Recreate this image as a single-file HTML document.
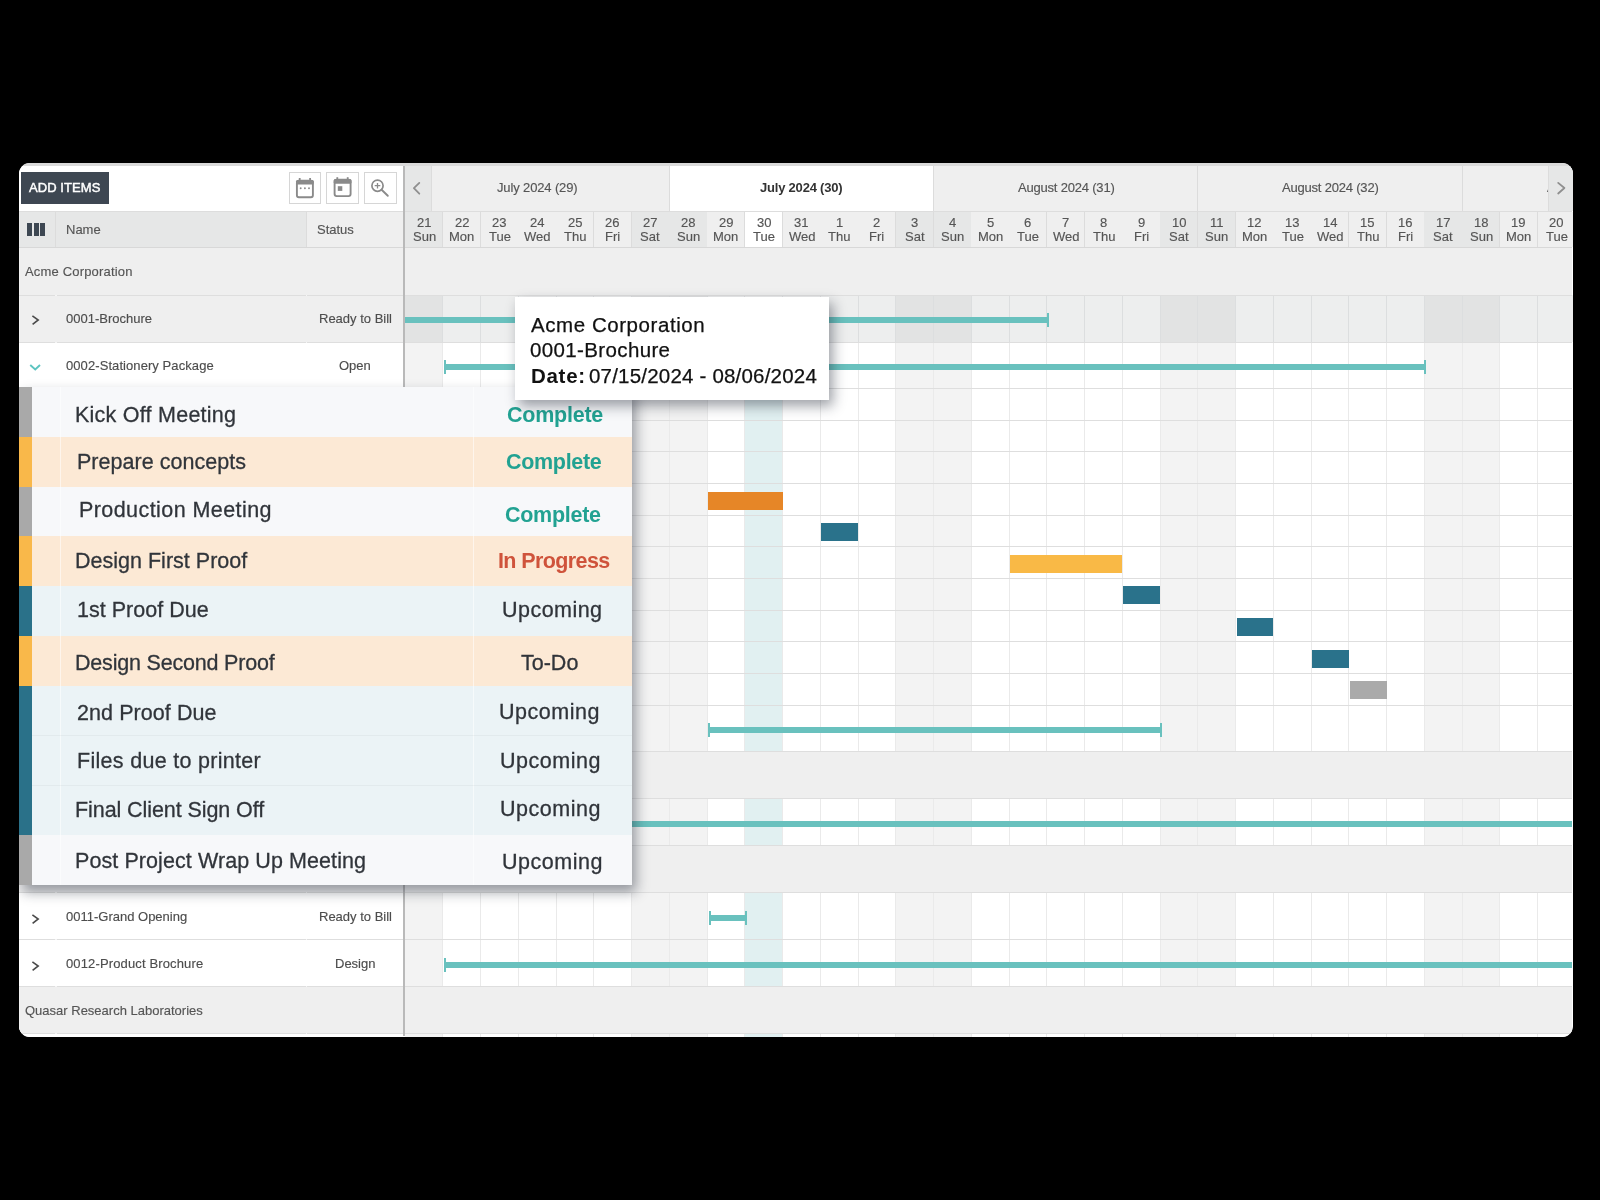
<!DOCTYPE html>
<html><head><meta charset="utf-8"><title>Gantt</title>
<style>
html,body{margin:0;padding:0;background:#000;width:1600px;height:1200px;overflow:hidden}
#p{position:absolute;left:19px;top:163px;width:1553.5px;height:873.5px;border-radius:11px;overflow:hidden;background:#fff}
#p>div,#p>svg{position:absolute}
.t{white-space:nowrap;font-family:'Liberation Sans', sans-serif;will-change:transform}
.g{-webkit-text-stroke:0.15px currentColor}
</style></head><body><div id="p">
<div style="left:0.00px;top:0.00px;width:1553.00px;height:2.50px;background:#dadada;"></div>
<div style="left:0.00px;top:2.50px;width:384.00px;height:45.50px;background:#ffffff;"></div>
<div style="left:386.00px;top:2.50px;width:1167.00px;height:45.50px;background:#efefef;"></div>
<div style="left:650.45px;top:2.50px;width:264.25px;height:45.50px;background:#ffffff;"></div>
<div style="left:649.95px;top:2.50px;width:1.00px;height:45.50px;background:#dcdcdc;"></div>
<div style="left:914.20px;top:2.50px;width:1.00px;height:45.50px;background:#dcdcdc;"></div>
<div style="left:1178.45px;top:2.50px;width:1.00px;height:45.50px;background:#dcdcdc;"></div>
<div style="left:1442.70px;top:2.50px;width:1.00px;height:45.50px;background:#dcdcdc;"></div>
<div style="left:0.00px;top:48.00px;width:1553.00px;height:1.00px;background:#dddddd;"></div>
<div style="left:0.00px;top:49.00px;width:287.50px;height:35.00px;background:#e6e7e7;"></div>
<div style="left:287.50px;top:49.00px;width:96.50px;height:35.00px;background:#efefef;"></div>
<div style="left:36.00px;top:49.00px;width:1.00px;height:35.00px;background:#dcdcdc;"></div>
<div style="left:287.00px;top:49.00px;width:1.00px;height:35.00px;background:#dcdcdc;"></div>
<div style="left:0.00px;top:84.00px;width:384.00px;height:1.20px;background:#d8d8d8;"></div>
<div style="left:386.20px;top:49.00px;width:37.75px;height:35.00px;background:#e6e7e7;"></div>
<div style="left:423.45px;top:49.00px;width:1.00px;height:35.00px;background:#dcdcdc;"></div>
<div style="left:423.95px;top:49.00px;width:37.75px;height:35.00px;background:#efefef;"></div>
<div style="left:461.20px;top:49.00px;width:1.00px;height:35.00px;background:#dcdcdc;"></div>
<div style="left:461.70px;top:49.00px;width:37.75px;height:35.00px;background:#efefef;"></div>
<div style="left:498.95px;top:49.00px;width:1.00px;height:35.00px;background:#dcdcdc;"></div>
<div style="left:499.45px;top:49.00px;width:37.75px;height:35.00px;background:#efefef;"></div>
<div style="left:536.70px;top:49.00px;width:1.00px;height:35.00px;background:#dcdcdc;"></div>
<div style="left:537.20px;top:49.00px;width:37.75px;height:35.00px;background:#efefef;"></div>
<div style="left:574.45px;top:49.00px;width:1.00px;height:35.00px;background:#dcdcdc;"></div>
<div style="left:574.95px;top:49.00px;width:37.75px;height:35.00px;background:#efefef;"></div>
<div style="left:612.20px;top:49.00px;width:1.00px;height:35.00px;background:#dcdcdc;"></div>
<div style="left:612.70px;top:49.00px;width:37.75px;height:35.00px;background:#e6e7e7;"></div>
<div style="left:649.95px;top:49.00px;width:1.00px;height:35.00px;background:#dcdcdc;"></div>
<div style="left:650.45px;top:49.00px;width:37.75px;height:35.00px;background:#e6e7e7;"></div>
<div style="left:687.70px;top:49.00px;width:1.00px;height:35.00px;background:#dcdcdc;"></div>
<div style="left:688.20px;top:49.00px;width:37.75px;height:35.00px;background:#efefef;"></div>
<div style="left:725.45px;top:49.00px;width:1.00px;height:35.00px;background:#dcdcdc;"></div>
<div style="left:725.95px;top:49.00px;width:37.75px;height:35.00px;background:#ffffff;"></div>
<div style="left:763.20px;top:49.00px;width:1.00px;height:35.00px;background:#dcdcdc;"></div>
<div style="left:763.70px;top:49.00px;width:37.75px;height:35.00px;background:#efefef;"></div>
<div style="left:800.95px;top:49.00px;width:1.00px;height:35.00px;background:#dcdcdc;"></div>
<div style="left:801.45px;top:49.00px;width:37.75px;height:35.00px;background:#efefef;"></div>
<div style="left:838.70px;top:49.00px;width:1.00px;height:35.00px;background:#dcdcdc;"></div>
<div style="left:839.20px;top:49.00px;width:37.75px;height:35.00px;background:#efefef;"></div>
<div style="left:876.45px;top:49.00px;width:1.00px;height:35.00px;background:#dcdcdc;"></div>
<div style="left:876.95px;top:49.00px;width:37.75px;height:35.00px;background:#e6e7e7;"></div>
<div style="left:914.20px;top:49.00px;width:1.00px;height:35.00px;background:#dcdcdc;"></div>
<div style="left:914.70px;top:49.00px;width:37.75px;height:35.00px;background:#e6e7e7;"></div>
<div style="left:951.95px;top:49.00px;width:1.00px;height:35.00px;background:#dcdcdc;"></div>
<div style="left:952.45px;top:49.00px;width:37.75px;height:35.00px;background:#efefef;"></div>
<div style="left:989.70px;top:49.00px;width:1.00px;height:35.00px;background:#dcdcdc;"></div>
<div style="left:990.20px;top:49.00px;width:37.75px;height:35.00px;background:#efefef;"></div>
<div style="left:1027.45px;top:49.00px;width:1.00px;height:35.00px;background:#dcdcdc;"></div>
<div style="left:1027.95px;top:49.00px;width:37.75px;height:35.00px;background:#efefef;"></div>
<div style="left:1065.20px;top:49.00px;width:1.00px;height:35.00px;background:#dcdcdc;"></div>
<div style="left:1065.70px;top:49.00px;width:37.75px;height:35.00px;background:#efefef;"></div>
<div style="left:1102.95px;top:49.00px;width:1.00px;height:35.00px;background:#dcdcdc;"></div>
<div style="left:1103.45px;top:49.00px;width:37.75px;height:35.00px;background:#efefef;"></div>
<div style="left:1140.70px;top:49.00px;width:1.00px;height:35.00px;background:#dcdcdc;"></div>
<div style="left:1141.20px;top:49.00px;width:37.75px;height:35.00px;background:#e6e7e7;"></div>
<div style="left:1178.45px;top:49.00px;width:1.00px;height:35.00px;background:#dcdcdc;"></div>
<div style="left:1178.95px;top:49.00px;width:37.75px;height:35.00px;background:#e6e7e7;"></div>
<div style="left:1216.20px;top:49.00px;width:1.00px;height:35.00px;background:#dcdcdc;"></div>
<div style="left:1216.70px;top:49.00px;width:37.75px;height:35.00px;background:#efefef;"></div>
<div style="left:1253.95px;top:49.00px;width:1.00px;height:35.00px;background:#dcdcdc;"></div>
<div style="left:1254.45px;top:49.00px;width:37.75px;height:35.00px;background:#efefef;"></div>
<div style="left:1291.70px;top:49.00px;width:1.00px;height:35.00px;background:#dcdcdc;"></div>
<div style="left:1292.20px;top:49.00px;width:37.75px;height:35.00px;background:#efefef;"></div>
<div style="left:1329.45px;top:49.00px;width:1.00px;height:35.00px;background:#dcdcdc;"></div>
<div style="left:1329.95px;top:49.00px;width:37.75px;height:35.00px;background:#efefef;"></div>
<div style="left:1367.20px;top:49.00px;width:1.00px;height:35.00px;background:#dcdcdc;"></div>
<div style="left:1367.70px;top:49.00px;width:37.75px;height:35.00px;background:#efefef;"></div>
<div style="left:1404.95px;top:49.00px;width:1.00px;height:35.00px;background:#dcdcdc;"></div>
<div style="left:1405.45px;top:49.00px;width:37.75px;height:35.00px;background:#e6e7e7;"></div>
<div style="left:1442.70px;top:49.00px;width:1.00px;height:35.00px;background:#dcdcdc;"></div>
<div style="left:1443.20px;top:49.00px;width:37.75px;height:35.00px;background:#e6e7e7;"></div>
<div style="left:1480.45px;top:49.00px;width:1.00px;height:35.00px;background:#dcdcdc;"></div>
<div style="left:1480.95px;top:49.00px;width:37.75px;height:35.00px;background:#efefef;"></div>
<div style="left:1518.20px;top:49.00px;width:1.00px;height:35.00px;background:#dcdcdc;"></div>
<div style="left:1518.70px;top:49.00px;width:37.75px;height:35.00px;background:#efefef;"></div>
<div style="left:1555.95px;top:49.00px;width:1.00px;height:35.00px;background:#dcdcdc;"></div>
<div style="left:386.00px;top:84.00px;width:1167.00px;height:1.20px;background:#d8d8d8;"></div>
<div style="left:0.00px;top:85.20px;width:1553.00px;height:791.80px;background:#ffffff;"></div>
<div style="left:386.20px;top:85.20px;width:37.75px;height:791.80px;background:#f3f3f3;"></div>
<div style="left:612.70px;top:85.20px;width:37.75px;height:791.80px;background:#f3f3f3;"></div>
<div style="left:650.45px;top:85.20px;width:37.75px;height:791.80px;background:#f3f3f3;"></div>
<div style="left:725.95px;top:85.20px;width:37.75px;height:791.80px;background:#e1f0f1;"></div>
<div style="left:876.95px;top:85.20px;width:37.75px;height:791.80px;background:#f3f3f3;"></div>
<div style="left:914.70px;top:85.20px;width:37.75px;height:791.80px;background:#f3f3f3;"></div>
<div style="left:1141.20px;top:85.20px;width:37.75px;height:791.80px;background:#f3f3f3;"></div>
<div style="left:1178.95px;top:85.20px;width:37.75px;height:791.80px;background:#f3f3f3;"></div>
<div style="left:1405.45px;top:85.20px;width:37.75px;height:791.80px;background:#f3f3f3;"></div>
<div style="left:1443.20px;top:85.20px;width:37.75px;height:791.80px;background:#f3f3f3;"></div>
<div style="left:423.45px;top:85.20px;width:1.00px;height:791.80px;background:#eaeaea;"></div>
<div style="left:461.20px;top:85.20px;width:1.00px;height:791.80px;background:#eaeaea;"></div>
<div style="left:498.95px;top:85.20px;width:1.00px;height:791.80px;background:#eaeaea;"></div>
<div style="left:536.70px;top:85.20px;width:1.00px;height:791.80px;background:#eaeaea;"></div>
<div style="left:574.45px;top:85.20px;width:1.00px;height:791.80px;background:#eaeaea;"></div>
<div style="left:612.20px;top:85.20px;width:1.00px;height:791.80px;background:#eaeaea;"></div>
<div style="left:649.95px;top:85.20px;width:1.00px;height:791.80px;background:#eaeaea;"></div>
<div style="left:687.70px;top:85.20px;width:1.00px;height:791.80px;background:#eaeaea;"></div>
<div style="left:725.45px;top:85.20px;width:1.00px;height:791.80px;background:#eaeaea;"></div>
<div style="left:763.20px;top:85.20px;width:1.00px;height:791.80px;background:#eaeaea;"></div>
<div style="left:800.95px;top:85.20px;width:1.00px;height:791.80px;background:#eaeaea;"></div>
<div style="left:838.70px;top:85.20px;width:1.00px;height:791.80px;background:#eaeaea;"></div>
<div style="left:876.45px;top:85.20px;width:1.00px;height:791.80px;background:#eaeaea;"></div>
<div style="left:914.20px;top:85.20px;width:1.00px;height:791.80px;background:#eaeaea;"></div>
<div style="left:951.95px;top:85.20px;width:1.00px;height:791.80px;background:#eaeaea;"></div>
<div style="left:989.70px;top:85.20px;width:1.00px;height:791.80px;background:#eaeaea;"></div>
<div style="left:1027.45px;top:85.20px;width:1.00px;height:791.80px;background:#eaeaea;"></div>
<div style="left:1065.20px;top:85.20px;width:1.00px;height:791.80px;background:#eaeaea;"></div>
<div style="left:1102.95px;top:85.20px;width:1.00px;height:791.80px;background:#eaeaea;"></div>
<div style="left:1140.70px;top:85.20px;width:1.00px;height:791.80px;background:#eaeaea;"></div>
<div style="left:1178.45px;top:85.20px;width:1.00px;height:791.80px;background:#eaeaea;"></div>
<div style="left:1216.20px;top:85.20px;width:1.00px;height:791.80px;background:#eaeaea;"></div>
<div style="left:1253.95px;top:85.20px;width:1.00px;height:791.80px;background:#eaeaea;"></div>
<div style="left:1291.70px;top:85.20px;width:1.00px;height:791.80px;background:#eaeaea;"></div>
<div style="left:1329.45px;top:85.20px;width:1.00px;height:791.80px;background:#eaeaea;"></div>
<div style="left:1367.20px;top:85.20px;width:1.00px;height:791.80px;background:#eaeaea;"></div>
<div style="left:1404.95px;top:85.20px;width:1.00px;height:791.80px;background:#eaeaea;"></div>
<div style="left:1442.70px;top:85.20px;width:1.00px;height:791.80px;background:#eaeaea;"></div>
<div style="left:1480.45px;top:85.20px;width:1.00px;height:791.80px;background:#eaeaea;"></div>
<div style="left:1518.20px;top:85.20px;width:1.00px;height:791.80px;background:#eaeaea;"></div>
<div style="left:0.00px;top:85.20px;width:1553.00px;height:46.80px;background:#efefef;"></div>
<div style="left:0.00px;top:132.00px;width:384.00px;height:47.00px;background:#efefef;"></div>
<div style="left:386.20px;top:132.00px;width:37.75px;height:47.00px;background:#e2e3e3;"></div>
<div style="left:423.95px;top:132.00px;width:37.75px;height:47.00px;background:#edeeee;"></div>
<div style="left:461.70px;top:132.00px;width:37.75px;height:47.00px;background:#edeeee;"></div>
<div style="left:499.45px;top:132.00px;width:37.75px;height:47.00px;background:#edeeee;"></div>
<div style="left:537.20px;top:132.00px;width:37.75px;height:47.00px;background:#edeeee;"></div>
<div style="left:574.95px;top:132.00px;width:37.75px;height:47.00px;background:#edeeee;"></div>
<div style="left:612.70px;top:132.00px;width:37.75px;height:47.00px;background:#e2e3e3;"></div>
<div style="left:650.45px;top:132.00px;width:37.75px;height:47.00px;background:#e2e3e3;"></div>
<div style="left:688.20px;top:132.00px;width:37.75px;height:47.00px;background:#edeeee;"></div>
<div style="left:725.95px;top:132.00px;width:37.75px;height:47.00px;background:#edeeee;"></div>
<div style="left:763.70px;top:132.00px;width:37.75px;height:47.00px;background:#edeeee;"></div>
<div style="left:801.45px;top:132.00px;width:37.75px;height:47.00px;background:#edeeee;"></div>
<div style="left:839.20px;top:132.00px;width:37.75px;height:47.00px;background:#edeeee;"></div>
<div style="left:876.95px;top:132.00px;width:37.75px;height:47.00px;background:#e2e3e3;"></div>
<div style="left:914.70px;top:132.00px;width:37.75px;height:47.00px;background:#e2e3e3;"></div>
<div style="left:952.45px;top:132.00px;width:37.75px;height:47.00px;background:#edeeee;"></div>
<div style="left:990.20px;top:132.00px;width:37.75px;height:47.00px;background:#edeeee;"></div>
<div style="left:1027.95px;top:132.00px;width:37.75px;height:47.00px;background:#edeeee;"></div>
<div style="left:1065.70px;top:132.00px;width:37.75px;height:47.00px;background:#edeeee;"></div>
<div style="left:1103.45px;top:132.00px;width:37.75px;height:47.00px;background:#edeeee;"></div>
<div style="left:1141.20px;top:132.00px;width:37.75px;height:47.00px;background:#e2e3e3;"></div>
<div style="left:1178.95px;top:132.00px;width:37.75px;height:47.00px;background:#e2e3e3;"></div>
<div style="left:1216.70px;top:132.00px;width:37.75px;height:47.00px;background:#edeeee;"></div>
<div style="left:1254.45px;top:132.00px;width:37.75px;height:47.00px;background:#edeeee;"></div>
<div style="left:1292.20px;top:132.00px;width:37.75px;height:47.00px;background:#edeeee;"></div>
<div style="left:1329.95px;top:132.00px;width:37.75px;height:47.00px;background:#edeeee;"></div>
<div style="left:1367.70px;top:132.00px;width:37.75px;height:47.00px;background:#edeeee;"></div>
<div style="left:1405.45px;top:132.00px;width:37.75px;height:47.00px;background:#e2e3e3;"></div>
<div style="left:1443.20px;top:132.00px;width:37.75px;height:47.00px;background:#e2e3e3;"></div>
<div style="left:1480.95px;top:132.00px;width:37.75px;height:47.00px;background:#edeeee;"></div>
<div style="left:1518.70px;top:132.00px;width:37.75px;height:47.00px;background:#edeeee;"></div>
<div style="left:423.45px;top:132.00px;width:1.00px;height:47.00px;background:#dcdedf;"></div>
<div style="left:461.20px;top:132.00px;width:1.00px;height:47.00px;background:#dcdedf;"></div>
<div style="left:498.95px;top:132.00px;width:1.00px;height:47.00px;background:#dcdedf;"></div>
<div style="left:536.70px;top:132.00px;width:1.00px;height:47.00px;background:#dcdedf;"></div>
<div style="left:574.45px;top:132.00px;width:1.00px;height:47.00px;background:#dcdedf;"></div>
<div style="left:612.20px;top:132.00px;width:1.00px;height:47.00px;background:#dcdedf;"></div>
<div style="left:649.95px;top:132.00px;width:1.00px;height:47.00px;background:#dcdedf;"></div>
<div style="left:687.70px;top:132.00px;width:1.00px;height:47.00px;background:#dcdedf;"></div>
<div style="left:725.45px;top:132.00px;width:1.00px;height:47.00px;background:#dcdedf;"></div>
<div style="left:763.20px;top:132.00px;width:1.00px;height:47.00px;background:#dcdedf;"></div>
<div style="left:800.95px;top:132.00px;width:1.00px;height:47.00px;background:#dcdedf;"></div>
<div style="left:838.70px;top:132.00px;width:1.00px;height:47.00px;background:#dcdedf;"></div>
<div style="left:876.45px;top:132.00px;width:1.00px;height:47.00px;background:#dcdedf;"></div>
<div style="left:914.20px;top:132.00px;width:1.00px;height:47.00px;background:#dcdedf;"></div>
<div style="left:951.95px;top:132.00px;width:1.00px;height:47.00px;background:#dcdedf;"></div>
<div style="left:989.70px;top:132.00px;width:1.00px;height:47.00px;background:#dcdedf;"></div>
<div style="left:1027.45px;top:132.00px;width:1.00px;height:47.00px;background:#dcdedf;"></div>
<div style="left:1065.20px;top:132.00px;width:1.00px;height:47.00px;background:#dcdedf;"></div>
<div style="left:1102.95px;top:132.00px;width:1.00px;height:47.00px;background:#dcdedf;"></div>
<div style="left:1140.70px;top:132.00px;width:1.00px;height:47.00px;background:#dcdedf;"></div>
<div style="left:1178.45px;top:132.00px;width:1.00px;height:47.00px;background:#dcdedf;"></div>
<div style="left:1216.20px;top:132.00px;width:1.00px;height:47.00px;background:#dcdedf;"></div>
<div style="left:1253.95px;top:132.00px;width:1.00px;height:47.00px;background:#dcdedf;"></div>
<div style="left:1291.70px;top:132.00px;width:1.00px;height:47.00px;background:#dcdedf;"></div>
<div style="left:1329.45px;top:132.00px;width:1.00px;height:47.00px;background:#dcdedf;"></div>
<div style="left:1367.20px;top:132.00px;width:1.00px;height:47.00px;background:#dcdedf;"></div>
<div style="left:1404.95px;top:132.00px;width:1.00px;height:47.00px;background:#dcdedf;"></div>
<div style="left:1442.70px;top:132.00px;width:1.00px;height:47.00px;background:#dcdedf;"></div>
<div style="left:1480.45px;top:132.00px;width:1.00px;height:47.00px;background:#dcdedf;"></div>
<div style="left:1518.20px;top:132.00px;width:1.00px;height:47.00px;background:#dcdedf;"></div>
<div style="left:0.00px;top:588.50px;width:1553.00px;height:47.00px;background:#efefef;"></div>
<div style="left:0.00px;top:682.50px;width:1553.00px;height:47.00px;background:#efefef;"></div>
<div style="left:0.00px;top:823.50px;width:1553.00px;height:47.00px;background:#efefef;"></div>
<div style="left:0.00px;top:131.50px;width:1553.00px;height:1.00px;background:#dedede;"></div>
<div style="left:36.00px;top:131.50px;width:1.50px;height:1.00px;background:#f4f4f4;"></div>
<div style="left:286.50px;top:131.50px;width:1.50px;height:1.00px;background:#f4f4f4;"></div>
<div style="left:0.00px;top:178.50px;width:1553.00px;height:1.00px;background:#dedede;"></div>
<div style="left:36.00px;top:178.50px;width:1.50px;height:1.00px;background:#f4f4f4;"></div>
<div style="left:286.50px;top:178.50px;width:1.50px;height:1.00px;background:#f4f4f4;"></div>
<div style="left:0.00px;top:225.10px;width:1553.00px;height:1.00px;background:#dedede;"></div>
<div style="left:36.00px;top:225.10px;width:1.50px;height:1.00px;background:#f4f4f4;"></div>
<div style="left:286.50px;top:225.10px;width:1.50px;height:1.00px;background:#f4f4f4;"></div>
<div style="left:0.00px;top:256.77px;width:1553.00px;height:1.00px;background:#dedede;"></div>
<div style="left:36.00px;top:256.77px;width:1.50px;height:1.00px;background:#f4f4f4;"></div>
<div style="left:286.50px;top:256.77px;width:1.50px;height:1.00px;background:#f4f4f4;"></div>
<div style="left:0.00px;top:288.44px;width:1553.00px;height:1.00px;background:#dedede;"></div>
<div style="left:36.00px;top:288.44px;width:1.50px;height:1.00px;background:#f4f4f4;"></div>
<div style="left:286.50px;top:288.44px;width:1.50px;height:1.00px;background:#f4f4f4;"></div>
<div style="left:0.00px;top:320.11px;width:1553.00px;height:1.00px;background:#dedede;"></div>
<div style="left:36.00px;top:320.11px;width:1.50px;height:1.00px;background:#f4f4f4;"></div>
<div style="left:286.50px;top:320.11px;width:1.50px;height:1.00px;background:#f4f4f4;"></div>
<div style="left:0.00px;top:351.78px;width:1553.00px;height:1.00px;background:#dedede;"></div>
<div style="left:36.00px;top:351.78px;width:1.50px;height:1.00px;background:#f4f4f4;"></div>
<div style="left:286.50px;top:351.78px;width:1.50px;height:1.00px;background:#f4f4f4;"></div>
<div style="left:0.00px;top:383.45px;width:1553.00px;height:1.00px;background:#dedede;"></div>
<div style="left:36.00px;top:383.45px;width:1.50px;height:1.00px;background:#f4f4f4;"></div>
<div style="left:286.50px;top:383.45px;width:1.50px;height:1.00px;background:#f4f4f4;"></div>
<div style="left:0.00px;top:415.12px;width:1553.00px;height:1.00px;background:#dedede;"></div>
<div style="left:36.00px;top:415.12px;width:1.50px;height:1.00px;background:#f4f4f4;"></div>
<div style="left:286.50px;top:415.12px;width:1.50px;height:1.00px;background:#f4f4f4;"></div>
<div style="left:0.00px;top:446.79px;width:1553.00px;height:1.00px;background:#dedede;"></div>
<div style="left:36.00px;top:446.79px;width:1.50px;height:1.00px;background:#f4f4f4;"></div>
<div style="left:286.50px;top:446.79px;width:1.50px;height:1.00px;background:#f4f4f4;"></div>
<div style="left:0.00px;top:478.46px;width:1553.00px;height:1.00px;background:#dedede;"></div>
<div style="left:36.00px;top:478.46px;width:1.50px;height:1.00px;background:#f4f4f4;"></div>
<div style="left:286.50px;top:478.46px;width:1.50px;height:1.00px;background:#f4f4f4;"></div>
<div style="left:0.00px;top:510.13px;width:1553.00px;height:1.00px;background:#dedede;"></div>
<div style="left:36.00px;top:510.13px;width:1.50px;height:1.00px;background:#f4f4f4;"></div>
<div style="left:286.50px;top:510.13px;width:1.50px;height:1.00px;background:#f4f4f4;"></div>
<div style="left:0.00px;top:541.80px;width:1553.00px;height:1.00px;background:#dedede;"></div>
<div style="left:36.00px;top:541.80px;width:1.50px;height:1.00px;background:#f4f4f4;"></div>
<div style="left:286.50px;top:541.80px;width:1.50px;height:1.00px;background:#f4f4f4;"></div>
<div style="left:0.00px;top:588.00px;width:1553.00px;height:1.00px;background:#dedede;"></div>
<div style="left:36.00px;top:588.00px;width:1.50px;height:1.00px;background:#f4f4f4;"></div>
<div style="left:286.50px;top:588.00px;width:1.50px;height:1.00px;background:#f4f4f4;"></div>
<div style="left:0.00px;top:635.00px;width:1553.00px;height:1.00px;background:#dedede;"></div>
<div style="left:36.00px;top:635.00px;width:1.50px;height:1.00px;background:#f4f4f4;"></div>
<div style="left:286.50px;top:635.00px;width:1.50px;height:1.00px;background:#f4f4f4;"></div>
<div style="left:0.00px;top:682.00px;width:1553.00px;height:1.00px;background:#dedede;"></div>
<div style="left:36.00px;top:682.00px;width:1.50px;height:1.00px;background:#f4f4f4;"></div>
<div style="left:286.50px;top:682.00px;width:1.50px;height:1.00px;background:#f4f4f4;"></div>
<div style="left:0.00px;top:729.00px;width:1553.00px;height:1.00px;background:#dedede;"></div>
<div style="left:36.00px;top:729.00px;width:1.50px;height:1.00px;background:#f4f4f4;"></div>
<div style="left:286.50px;top:729.00px;width:1.50px;height:1.00px;background:#f4f4f4;"></div>
<div style="left:0.00px;top:776.00px;width:1553.00px;height:1.00px;background:#dedede;"></div>
<div style="left:36.00px;top:776.00px;width:1.50px;height:1.00px;background:#f4f4f4;"></div>
<div style="left:286.50px;top:776.00px;width:1.50px;height:1.00px;background:#f4f4f4;"></div>
<div style="left:0.00px;top:823.00px;width:1553.00px;height:1.00px;background:#dedede;"></div>
<div style="left:36.00px;top:823.00px;width:1.50px;height:1.00px;background:#f4f4f4;"></div>
<div style="left:286.50px;top:823.00px;width:1.50px;height:1.00px;background:#f4f4f4;"></div>
<div style="left:0.00px;top:870.00px;width:1553.00px;height:1.00px;background:#dedede;"></div>
<div style="left:36.00px;top:870.00px;width:1.50px;height:1.00px;background:#f4f4f4;"></div>
<div style="left:286.50px;top:870.00px;width:1.50px;height:1.00px;background:#f4f4f4;"></div>
<div style="left:0.00px;top:876.50px;width:1553.00px;height:1.00px;background:#dedede;"></div>
<div style="left:36.00px;top:876.50px;width:1.50px;height:1.00px;background:#f4f4f4;"></div>
<div style="left:286.50px;top:876.50px;width:1.50px;height:1.00px;background:#f4f4f4;"></div>
<div style="left:384.00px;top:2.50px;width:2.00px;height:870.50px;background:#b9b9b9;"></div>
<div style="left:386.00px;top:2.50px;width:25.50px;height:45.50px;background:#e6e7e7;"></div>
<div style="left:411.50px;top:2.50px;width:1.00px;height:45.50px;background:#dcdcdc;"></div>
<div style="left:1529.00px;top:2.50px;width:25.00px;height:45.50px;background:#e6e7e7;"></div>
<div style="left:1528.50px;top:2.50px;width:1.00px;height:45.50px;background:#dcdcdc;"></div>
<div style="left:386.00px;top:154.00px;width:644.00px;height:6.00px;background:#69c1be;"></div>
<div style="left:1028.00px;top:150.00px;width:2.00px;height:14.00px;background:#69c1be;"></div>
<div style="left:425.00px;top:201.00px;width:982.00px;height:6.00px;background:#69c1be;"></div>
<div style="left:425.00px;top:197.00px;width:2.00px;height:14.00px;background:#69c1be;"></div>
<div style="left:1405.00px;top:197.00px;width:2.00px;height:14.00px;background:#69c1be;"></div>
<div style="left:689.00px;top:564.00px;width:454.00px;height:6.00px;background:#69c1be;"></div>
<div style="left:689.00px;top:560.00px;width:2.00px;height:14.00px;background:#69c1be;"></div>
<div style="left:1141.00px;top:560.00px;width:2.00px;height:14.00px;background:#69c1be;"></div>
<div style="left:386.00px;top:658.00px;width:1167.00px;height:6.00px;background:#69c1be;"></div>
<div style="left:689.50px;top:752.00px;width:38.00px;height:6.00px;background:#69c1be;"></div>
<div style="left:689.50px;top:748.00px;width:2.00px;height:14.00px;background:#69c1be;"></div>
<div style="left:725.50px;top:748.00px;width:2.00px;height:14.00px;background:#69c1be;"></div>
<div style="left:425.00px;top:799.00px;width:1128.00px;height:6.00px;background:#69c1be;"></div>
<div style="left:425.00px;top:795.00px;width:2.00px;height:14.00px;background:#69c1be;"></div>
<div style="left:689.20px;top:328.50px;width:74.50px;height:18.00px;background:#e68627;"></div>
<div style="left:802.45px;top:360.00px;width:36.75px;height:18.00px;background:#2a728b;"></div>
<div style="left:991.20px;top:391.50px;width:112.25px;height:18.00px;background:#f9b946;"></div>
<div style="left:1104.45px;top:423.25px;width:36.75px;height:18.00px;background:#2a728b;"></div>
<div style="left:1217.70px;top:455.00px;width:36.75px;height:18.00px;background:#2a728b;"></div>
<div style="left:1293.20px;top:486.50px;width:36.75px;height:18.00px;background:#2a728b;"></div>
<div style="left:1330.95px;top:518.00px;width:36.75px;height:18.00px;background:#aaaaaa;"></div>
<div class="t g" style="left:478.25px;top:18.00px;font-size:13px;line-height:13px;font-weight:400;color:#555555;letter-spacing:-0.135px;">July 2024 (29)</div>
<div class="t" style="left:741.45px;top:18.00px;font-size:13px;line-height:13px;font-weight:700;color:#333333;letter-spacing:-0.208px;">July 2024 (30)</div>
<div class="t g" style="left:998.60px;top:18.00px;font-size:13px;line-height:13px;font-weight:400;color:#555555;letter-spacing:-0.200px;">August 2024 (31)</div>
<div class="t g" style="left:1263.00px;top:18.00px;font-size:13px;line-height:13px;font-weight:400;color:#555555;letter-spacing:-0.200px;">August 2024 (32)</div>
<div class="t g" style="left:1528.30px;top:18.00px;font-size:13px;line-height:13px;font-weight:400;color:#555555;letter-spacing:-0.200px;">August 2024 (33)</div>
<div class="t g" style="left:397.82px;top:53.00px;font-size:13px;line-height:13px;font-weight:400;color:#555555;">21</div>
<div class="t g" style="left:393.57px;top:67.00px;font-size:13px;line-height:13px;font-weight:400;color:#555555;">Sun</div>
<div class="t g" style="left:435.57px;top:53.00px;font-size:13px;line-height:13px;font-weight:400;color:#555555;">22</div>
<div class="t g" style="left:430.07px;top:67.00px;font-size:13px;line-height:13px;font-weight:400;color:#555555;">Mon</div>
<div class="t g" style="left:473.20px;top:53.00px;font-size:13px;line-height:13px;font-weight:400;color:#555555;">23</div>
<div class="t g" style="left:469.82px;top:67.00px;font-size:13px;line-height:13px;font-weight:400;color:#555555;">Tue</div>
<div class="t g" style="left:510.95px;top:53.00px;font-size:13px;line-height:13px;font-weight:400;color:#555555;">24</div>
<div class="t g" style="left:505.45px;top:67.00px;font-size:13px;line-height:13px;font-weight:400;color:#555555;">Wed</div>
<div class="t g" style="left:548.70px;top:53.00px;font-size:13px;line-height:13px;font-weight:400;color:#555555;">25</div>
<div class="t g" style="left:545.20px;top:67.00px;font-size:13px;line-height:13px;font-weight:400;color:#555555;">Thu</div>
<div class="t g" style="left:586.45px;top:53.00px;font-size:13px;line-height:13px;font-weight:400;color:#555555;">26</div>
<div class="t g" style="left:586.20px;top:67.00px;font-size:13px;line-height:13px;font-weight:400;color:#555555;">Fri</div>
<div class="t g" style="left:624.33px;top:53.00px;font-size:13px;line-height:13px;font-weight:400;color:#555555;">27</div>
<div class="t g" style="left:621.45px;top:67.00px;font-size:13px;line-height:13px;font-weight:400;color:#555555;">Sat</div>
<div class="t g" style="left:661.95px;top:53.00px;font-size:13px;line-height:13px;font-weight:400;color:#555555;">28</div>
<div class="t g" style="left:657.83px;top:67.00px;font-size:13px;line-height:13px;font-weight:400;color:#555555;">Sun</div>
<div class="t g" style="left:699.70px;top:53.00px;font-size:13px;line-height:13px;font-weight:400;color:#555555;">29</div>
<div class="t g" style="left:694.33px;top:67.00px;font-size:13px;line-height:13px;font-weight:400;color:#555555;">Mon</div>
<div class="t g" style="left:737.58px;top:53.00px;font-size:13px;line-height:13px;font-weight:400;color:#555555;">30</div>
<div class="t g" style="left:734.08px;top:67.00px;font-size:13px;line-height:13px;font-weight:400;color:#555555;">Tue</div>
<div class="t g" style="left:775.45px;top:53.00px;font-size:13px;line-height:13px;font-weight:400;color:#555555;">31</div>
<div class="t g" style="left:769.70px;top:67.00px;font-size:13px;line-height:13px;font-weight:400;color:#555555;">Wed</div>
<div class="t g" style="left:816.58px;top:53.00px;font-size:13px;line-height:13px;font-weight:400;color:#555555;">1</div>
<div class="t g" style="left:809.45px;top:67.00px;font-size:13px;line-height:13px;font-weight:400;color:#555555;">Thu</div>
<div class="t g" style="left:854.45px;top:53.00px;font-size:13px;line-height:13px;font-weight:400;color:#555555;">2</div>
<div class="t g" style="left:850.45px;top:67.00px;font-size:13px;line-height:13px;font-weight:400;color:#555555;">Fri</div>
<div class="t g" style="left:892.20px;top:53.00px;font-size:13px;line-height:13px;font-weight:400;color:#555555;">3</div>
<div class="t g" style="left:885.70px;top:67.00px;font-size:13px;line-height:13px;font-weight:400;color:#555555;">Sat</div>
<div class="t g" style="left:930.08px;top:53.00px;font-size:13px;line-height:13px;font-weight:400;color:#555555;">4</div>
<div class="t g" style="left:922.08px;top:67.00px;font-size:13px;line-height:13px;font-weight:400;color:#555555;">Sun</div>
<div class="t g" style="left:967.70px;top:53.00px;font-size:13px;line-height:13px;font-weight:400;color:#555555;">5</div>
<div class="t g" style="left:958.58px;top:67.00px;font-size:13px;line-height:13px;font-weight:400;color:#555555;">Mon</div>
<div class="t g" style="left:1005.33px;top:53.00px;font-size:13px;line-height:13px;font-weight:400;color:#555555;">6</div>
<div class="t g" style="left:998.33px;top:67.00px;font-size:13px;line-height:13px;font-weight:400;color:#555555;">Tue</div>
<div class="t g" style="left:1043.20px;top:53.00px;font-size:13px;line-height:13px;font-weight:400;color:#555555;">7</div>
<div class="t g" style="left:1033.95px;top:67.00px;font-size:13px;line-height:13px;font-weight:400;color:#555555;">Wed</div>
<div class="t g" style="left:1080.95px;top:53.00px;font-size:13px;line-height:13px;font-weight:400;color:#555555;">8</div>
<div class="t g" style="left:1073.70px;top:67.00px;font-size:13px;line-height:13px;font-weight:400;color:#555555;">Thu</div>
<div class="t g" style="left:1118.70px;top:53.00px;font-size:13px;line-height:13px;font-weight:400;color:#555555;">9</div>
<div class="t g" style="left:1114.70px;top:67.00px;font-size:13px;line-height:13px;font-weight:400;color:#555555;">Fri</div>
<div class="t g" style="left:1152.58px;top:53.00px;font-size:13px;line-height:13px;font-weight:400;color:#555555;">10</div>
<div class="t g" style="left:1149.95px;top:67.00px;font-size:13px;line-height:13px;font-weight:400;color:#555555;">Sat</div>
<div class="t g" style="left:1190.95px;top:53.00px;font-size:13px;line-height:13px;font-weight:400;color:#555555;">11</div>
<div class="t g" style="left:1186.33px;top:67.00px;font-size:13px;line-height:13px;font-weight:400;color:#555555;">Sun</div>
<div class="t g" style="left:1228.20px;top:53.00px;font-size:13px;line-height:13px;font-weight:400;color:#555555;">12</div>
<div class="t g" style="left:1222.83px;top:67.00px;font-size:13px;line-height:13px;font-weight:400;color:#555555;">Mon</div>
<div class="t g" style="left:1265.83px;top:53.00px;font-size:13px;line-height:13px;font-weight:400;color:#555555;">13</div>
<div class="t g" style="left:1262.58px;top:67.00px;font-size:13px;line-height:13px;font-weight:400;color:#555555;">Tue</div>
<div class="t g" style="left:1303.58px;top:53.00px;font-size:13px;line-height:13px;font-weight:400;color:#555555;">14</div>
<div class="t g" style="left:1298.20px;top:67.00px;font-size:13px;line-height:13px;font-weight:400;color:#555555;">Wed</div>
<div class="t g" style="left:1341.33px;top:53.00px;font-size:13px;line-height:13px;font-weight:400;color:#555555;">15</div>
<div class="t g" style="left:1337.95px;top:67.00px;font-size:13px;line-height:13px;font-weight:400;color:#555555;">Thu</div>
<div class="t g" style="left:1379.08px;top:53.00px;font-size:13px;line-height:13px;font-weight:400;color:#555555;">16</div>
<div class="t g" style="left:1378.95px;top:67.00px;font-size:13px;line-height:13px;font-weight:400;color:#555555;">Fri</div>
<div class="t g" style="left:1416.95px;top:53.00px;font-size:13px;line-height:13px;font-weight:400;color:#555555;">17</div>
<div class="t g" style="left:1414.20px;top:67.00px;font-size:13px;line-height:13px;font-weight:400;color:#555555;">Sat</div>
<div class="t g" style="left:1454.58px;top:53.00px;font-size:13px;line-height:13px;font-weight:400;color:#555555;">18</div>
<div class="t g" style="left:1450.58px;top:67.00px;font-size:13px;line-height:13px;font-weight:400;color:#555555;">Sun</div>
<div class="t g" style="left:1492.33px;top:53.00px;font-size:13px;line-height:13px;font-weight:400;color:#555555;">19</div>
<div class="t g" style="left:1487.08px;top:67.00px;font-size:13px;line-height:13px;font-weight:400;color:#555555;">Mon</div>
<div class="t g" style="left:1530.20px;top:53.00px;font-size:13px;line-height:13px;font-weight:400;color:#555555;">20</div>
<div class="t g" style="left:1526.83px;top:67.00px;font-size:13px;line-height:13px;font-weight:400;color:#555555;">Tue</div>
<div style="left:386.00px;top:2.50px;width:25.50px;height:45.50px;background:#e6e7e7;"></div>
<div style="left:411.50px;top:2.50px;width:1.00px;height:45.50px;background:#dcdcdc;"></div>
<div style="left:1529.00px;top:2.50px;width:25.00px;height:45.50px;background:#e6e7e7;"></div>
<div style="left:1528.50px;top:2.50px;width:1.00px;height:45.50px;background:#dcdcdc;"></div>
<svg style="left:386.00px;top:7.00px;" width="30" height="36" viewBox="0 0 30 36"><polyline points="14.3,12.9 8.9,18.15 14.3,23.7" fill="none" stroke="#8f8f8f" stroke-width="1.8" stroke-linecap="round" stroke-linejoin="round"/></svg>
<svg style="left:1529.00px;top:7.00px;" width="24" height="36" viewBox="0 0 24 36"><polyline points="10.2,12.9 16.4,18 10.2,23.5" fill="none" stroke="#8f8f8f" stroke-width="1.8" stroke-linecap="round" stroke-linejoin="round"/></svg>
<div style="left:2.20px;top:9.10px;width:87.70px;height:32.20px;background:#3e4752;"></div>
<div class="t" style="left:10.20px;top:18.00px;font-size:13px;line-height:13px;font-weight:400;color:#ffffff;letter-spacing:0.069px;-webkit-text-stroke:0.45px #ffffff;">ADD ITEMS</div>
<div style="left:269.85px;top:9.30px;width:32.60px;height:31.70px;background:#ffffff;box-sizing:border-box;border:1px solid #d6d6d6;"></div>
<div style="left:307.20px;top:9.30px;width:32.60px;height:31.70px;background:#ffffff;box-sizing:border-box;border:1px solid #d6d6d6;"></div>
<div style="left:345.10px;top:9.30px;width:32.60px;height:31.70px;background:#ffffff;box-sizing:border-box;border:1px solid #d6d6d6;"></div>
<svg style="left:269.00px;top:7.00px;" width="34" height="34" viewBox="0 0 34 34"><rect x="8.9" y="10.6" width="16" height="16.6" rx="2" ry="2" fill="none" stroke="#8a8a8a" stroke-width="1.9"/><rect x="8" y="10" width="17.8" height="4.6" rx="1.5" fill="#8a8a8a"/><rect x="10.8" y="8" width="1.8" height="3" fill="#8a8a8a"/><rect x="21.2" y="8" width="1.8" height="3" fill="#8a8a8a"/><circle cx="12.7" cy="18.2" r="0.95" fill="#8a8a8a"/><circle cx="16.9" cy="18.2" r="0.95" fill="#8a8a8a"/><circle cx="21" cy="18.2" r="0.95" fill="#8a8a8a"/></svg>
<svg style="left:307.00px;top:7.00px;" width="34" height="34" viewBox="0 0 34 34"><rect x="8.6" y="9.8" width="16" height="16.3" rx="2" ry="2" fill="none" stroke="#8a8a8a" stroke-width="1.9"/><rect x="7.7" y="9" width="17.8" height="4.8" rx="1.5" fill="#8a8a8a"/><rect x="10.4" y="7.2" width="1.8" height="3" fill="#8a8a8a"/><rect x="20.8" y="7.2" width="1.8" height="3" fill="#8a8a8a"/><rect x="11.8" y="16.2" width="4.5" height="4.7" fill="#8a8a8a"/></svg>
<svg style="left:345.00px;top:7.00px;" width="34" height="34" viewBox="0 0 34 34"><circle cx="13.5" cy="15.7" r="5.6" fill="none" stroke="#8a8a8a" stroke-width="1.7"/><line x1="17.6" y1="19.8" x2="23.8" y2="25.8" stroke="#8a8a8a" stroke-width="1.9" stroke-linecap="round"/><line x1="13.5" y1="12.9" x2="13.5" y2="18.5" stroke="#8a8a8a" stroke-width="1.3"/><line x1="10.7" y1="15.7" x2="16.3" y2="15.7" stroke="#8a8a8a" stroke-width="1.3"/></svg>
<div style="left:8.10px;top:60.00px;width:4.90px;height:13.00px;background:#3d4752;"></div>
<div style="left:15.00px;top:60.00px;width:4.90px;height:13.00px;background:#3d4752;"></div>
<div style="left:21.00px;top:60.00px;width:4.80px;height:13.00px;background:#3d4752;"></div>
<div class="t g" style="left:46.70px;top:60.00px;font-size:13px;line-height:13px;font-weight:400;color:#555555;">Name</div>
<div class="t g" style="left:297.55px;top:60.00px;font-size:13px;line-height:13px;font-weight:400;color:#555555;">Status</div>
<div class="t g" style="left:6.40px;top:102.00px;font-size:13px;line-height:13px;font-weight:400;color:#555555;letter-spacing:0.173px;">Acme Corporation</div>
<div class="t g" style="left:46.80px;top:149.00px;font-size:13px;line-height:13px;font-weight:400;color:#4d4d4d;">0001-Brochure</div>
<div class="t g" style="left:299.50px;top:149.00px;font-size:13px;line-height:13px;font-weight:400;color:#4d4d4d;">Ready to Bill</div>
<div class="t g" style="left:46.80px;top:196.00px;font-size:13px;line-height:13px;font-weight:400;color:#4d4d4d;letter-spacing:0.077px;">0002-Stationery Package</div>
<div class="t g" style="left:320.25px;top:196.00px;font-size:13px;line-height:13px;font-weight:400;color:#4d4d4d;">Open</div>
<div class="t g" style="left:46.80px;top:747.00px;font-size:13px;line-height:13px;font-weight:400;color:#4d4d4d;">0011-Grand Opening</div>
<div class="t g" style="left:299.50px;top:747.00px;font-size:13px;line-height:13px;font-weight:400;color:#4d4d4d;">Ready to Bill</div>
<div class="t g" style="left:46.80px;top:794.00px;font-size:13px;line-height:13px;font-weight:400;color:#4d4d4d;letter-spacing:0.138px;">0012-Product Brochure</div>
<div class="t g" style="left:315.62px;top:794.00px;font-size:13px;line-height:13px;font-weight:400;color:#4d4d4d;">Design</div>
<div class="t g" style="left:6.20px;top:841.00px;font-size:13px;line-height:13px;font-weight:400;color:#555555;">Quasar Research Laboratories</div>
<svg style="left:9.00px;top:149.20px;" width="16" height="16" viewBox="0 0 16 16"><polyline points="4.4,3.9 10.2,8 4.6,12.4" fill="none" stroke="#4a4a4a" stroke-width="1.6" stroke-linecap="butt" stroke-linejoin="miter"/></svg>
<svg style="left:9.00px;top:747.50px;" width="16" height="16" viewBox="0 0 16 16"><polyline points="4.4,3.9 10.2,8 4.6,12.4" fill="none" stroke="#4a4a4a" stroke-width="1.6" stroke-linecap="butt" stroke-linejoin="miter"/></svg>
<svg style="left:9.00px;top:794.50px;" width="16" height="16" viewBox="0 0 16 16"><polyline points="4.4,3.9 10.2,8 4.6,12.4" fill="none" stroke="#4a4a4a" stroke-width="1.6" stroke-linecap="butt" stroke-linejoin="miter"/></svg>
<svg style="left:7.00px;top:196.00px;" width="18" height="16" viewBox="0 0 18 16"><polyline points="4.25,6 9.25,10.4 14,6" fill="none" stroke="#5cc4c0" stroke-width="1.9" stroke-linecap="butt" stroke-linejoin="miter"/></svg>
<div style="left:0.00px;top:224.00px;width:613.00px;height:498.00px;background:#ffffff;box-shadow:4px 7px 12px rgba(25,32,45,0.42);"></div>
<div style="left:13.00px;top:224.00px;width:600.00px;height:49.80px;background:#f7f8fa;"></div>
<div style="left:0.00px;top:224.00px;width:13.00px;height:49.80px;background:#a9a9a9;"></div>
<div style="left:41.00px;top:224.00px;width:1.00px;height:49.80px;background:rgba(255,255,255,0.55);"></div>
<div style="left:454.20px;top:224.00px;width:1.00px;height:49.80px;background:rgba(255,255,255,0.55);"></div>
<div class="t" style="left:56.05px;top:242.00px;font-size:21.5px;line-height:21.5px;font-weight:400;color:#30343a;letter-spacing:0.243px;-webkit-text-stroke:0.3px #35393e;">Kick Off Meeting</div>
<div class="t" style="left:488.15px;top:242.00px;font-size:21.5px;line-height:21.5px;font-weight:700;color:#22a292;letter-spacing:-0.243px;">Complete</div>
<div style="left:13.00px;top:273.80px;width:600.00px;height:49.80px;background:#fce9d5;"></div>
<div style="left:0.00px;top:273.80px;width:13.00px;height:49.80px;background:#f9b84a;"></div>
<div style="left:41.00px;top:273.80px;width:1.00px;height:49.80px;background:rgba(255,255,255,0.55);"></div>
<div style="left:454.20px;top:273.80px;width:1.00px;height:49.80px;background:rgba(255,255,255,0.55);"></div>
<div class="t" style="left:57.85px;top:289.00px;font-size:21.5px;line-height:21.5px;font-weight:400;color:#30343a;letter-spacing:0.027px;-webkit-text-stroke:0.3px #35393e;">Prepare concepts</div>
<div class="t" style="left:487.15px;top:289.00px;font-size:21.5px;line-height:21.5px;font-weight:700;color:#22a292;letter-spacing:-0.307px;">Complete</div>
<div style="left:13.00px;top:323.60px;width:600.00px;height:49.80px;background:#f7f8fa;"></div>
<div style="left:0.00px;top:323.60px;width:13.00px;height:49.80px;background:#a9a9a9;"></div>
<div style="left:41.00px;top:323.60px;width:1.00px;height:49.80px;background:rgba(255,255,255,0.55);"></div>
<div style="left:454.20px;top:323.60px;width:1.00px;height:49.80px;background:rgba(255,255,255,0.55);"></div>
<div class="t" style="left:59.55px;top:337.00px;font-size:21.5px;line-height:21.5px;font-weight:400;color:#30343a;letter-spacing:0.426px;-webkit-text-stroke:0.3px #35393e;">Production Meeting</div>
<div class="t" style="left:485.65px;top:342.00px;font-size:21.5px;line-height:21.5px;font-weight:700;color:#22a292;letter-spacing:-0.271px;">Complete</div>
<div style="left:13.00px;top:373.40px;width:600.00px;height:49.80px;background:#fce9d5;"></div>
<div style="left:0.00px;top:373.40px;width:13.00px;height:49.80px;background:#f9b84a;"></div>
<div style="left:41.00px;top:373.40px;width:1.00px;height:49.80px;background:rgba(255,255,255,0.55);"></div>
<div style="left:454.20px;top:373.40px;width:1.00px;height:49.80px;background:rgba(255,255,255,0.55);"></div>
<div class="t" style="left:56.25px;top:388.00px;font-size:21.5px;line-height:21.5px;font-weight:400;color:#30343a;letter-spacing:0.009px;-webkit-text-stroke:0.3px #35393e;">Design First Proof</div>
<div class="t" style="left:478.50px;top:388.00px;font-size:21.5px;line-height:21.5px;font-weight:700;color:#cf533b;letter-spacing:-0.600px;">In Progress</div>
<div style="left:13.00px;top:423.20px;width:600.00px;height:49.80px;background:#ebf3f6;"></div>
<div style="left:0.00px;top:423.20px;width:13.00px;height:49.80px;background:#2a7189;"></div>
<div style="left:41.00px;top:423.20px;width:1.00px;height:49.80px;background:rgba(255,255,255,0.55);"></div>
<div style="left:454.20px;top:423.20px;width:1.00px;height:49.80px;background:rgba(255,255,255,0.55);"></div>
<div class="t" style="left:57.90px;top:437.00px;font-size:21.5px;line-height:21.5px;font-weight:400;color:#30343a;letter-spacing:0.017px;-webkit-text-stroke:0.3px #35393e;">1st Proof Due</div>
<div class="t" style="left:483.25px;top:437.00px;font-size:21.5px;line-height:21.5px;font-weight:400;color:#30343a;letter-spacing:0.464px;-webkit-text-stroke:0.3px #30343a;">Upcoming</div>
<div style="left:13.00px;top:473.00px;width:600.00px;height:49.80px;background:#fce9d5;"></div>
<div style="left:0.00px;top:473.00px;width:13.00px;height:49.80px;background:#f9b84a;"></div>
<div style="left:41.00px;top:473.00px;width:1.00px;height:49.80px;background:rgba(255,255,255,0.55);"></div>
<div style="left:454.20px;top:473.00px;width:1.00px;height:49.80px;background:rgba(255,255,255,0.55);"></div>
<div class="t" style="left:56.25px;top:490.00px;font-size:21.5px;line-height:21.5px;font-weight:400;color:#30343a;letter-spacing:-0.194px;-webkit-text-stroke:0.3px #35393e;">Design Second Proof</div>
<div class="t" style="left:501.50px;top:490.00px;font-size:21.5px;line-height:21.5px;font-weight:400;color:#30343a;-webkit-text-stroke:0.3px #30343a;">To-Do</div>
<div style="left:13.00px;top:522.80px;width:600.00px;height:49.80px;background:#ebf3f6;"></div>
<div style="left:0.00px;top:522.80px;width:13.00px;height:49.80px;background:#2a7189;"></div>
<div style="left:41.00px;top:522.80px;width:1.00px;height:49.80px;background:rgba(255,255,255,0.55);"></div>
<div style="left:454.20px;top:522.80px;width:1.00px;height:49.80px;background:rgba(255,255,255,0.55);"></div>
<div class="t" style="left:58.00px;top:540.00px;font-size:21.5px;line-height:21.5px;font-weight:400;color:#30343a;letter-spacing:0.071px;-webkit-text-stroke:0.3px #35393e;">2nd Proof Due</div>
<div class="t" style="left:479.75px;top:539.00px;font-size:21.5px;line-height:21.5px;font-weight:400;color:#30343a;letter-spacing:0.507px;-webkit-text-stroke:0.3px #30343a;">Upcoming</div>
<div style="left:13.00px;top:572.60px;width:600.00px;height:49.80px;background:#ebf3f6;"></div>
<div style="left:0.00px;top:572.60px;width:13.00px;height:49.80px;background:#2a7189;"></div>
<div style="left:41.00px;top:572.60px;width:1.00px;height:49.80px;background:rgba(255,255,255,0.55);"></div>
<div style="left:454.20px;top:572.60px;width:1.00px;height:49.80px;background:rgba(255,255,255,0.55);"></div>
<div style="left:13.00px;top:572.10px;width:600.00px;height:1.00px;background:rgba(0,0,0,0.035);"></div>
<div class="t" style="left:58.25px;top:588.00px;font-size:21.5px;line-height:21.5px;font-weight:400;color:#30343a;letter-spacing:0.295px;-webkit-text-stroke:0.3px #35393e;">Files due to printer</div>
<div class="t" style="left:481.25px;top:588.00px;font-size:21.5px;line-height:21.5px;font-weight:400;color:#30343a;letter-spacing:0.507px;-webkit-text-stroke:0.3px #30343a;">Upcoming</div>
<div style="left:13.00px;top:622.40px;width:600.00px;height:49.80px;background:#ebf3f6;"></div>
<div style="left:0.00px;top:622.40px;width:13.00px;height:49.80px;background:#2a7189;"></div>
<div style="left:41.00px;top:622.40px;width:1.00px;height:49.80px;background:rgba(255,255,255,0.55);"></div>
<div style="left:454.20px;top:622.40px;width:1.00px;height:49.80px;background:rgba(255,255,255,0.55);"></div>
<div style="left:13.00px;top:621.90px;width:600.00px;height:1.00px;background:rgba(0,0,0,0.035);"></div>
<div class="t" style="left:56.25px;top:637.00px;font-size:21.5px;line-height:21.5px;font-weight:400;color:#30343a;letter-spacing:-0.080px;-webkit-text-stroke:0.3px #35393e;">Final Client Sign Off</div>
<div class="t" style="left:481.25px;top:636.00px;font-size:21.5px;line-height:21.5px;font-weight:400;color:#30343a;letter-spacing:0.507px;-webkit-text-stroke:0.3px #30343a;">Upcoming</div>
<div style="left:13.00px;top:672.20px;width:600.00px;height:49.80px;background:#f7f8fa;"></div>
<div style="left:0.00px;top:672.20px;width:13.00px;height:49.80px;background:#a9a9a9;"></div>
<div style="left:41.00px;top:672.20px;width:1.00px;height:49.80px;background:rgba(255,255,255,0.55);"></div>
<div style="left:454.20px;top:672.20px;width:1.00px;height:49.80px;background:rgba(255,255,255,0.55);"></div>
<div class="t" style="left:56.25px;top:688.00px;font-size:21.5px;line-height:21.5px;font-weight:400;color:#30343a;letter-spacing:0.083px;-webkit-text-stroke:0.3px #35393e;">Post Project Wrap Up Meeting</div>
<div class="t" style="left:483.25px;top:689.00px;font-size:21.5px;line-height:21.5px;font-weight:400;color:#30343a;letter-spacing:0.507px;-webkit-text-stroke:0.3px #30343a;">Upcoming</div>
<div style="left:495.60px;top:133.70px;width:314.40px;height:103.10px;background:#ffffff;box-shadow:4px 6px 12px rgba(25,32,45,0.42);"></div>
<div class="t" style="left:511.80px;top:152.00px;font-size:20.5px;line-height:20.5px;font-weight:400;color:#111111;letter-spacing:0.560px;-webkit-text-stroke:0.25px #111;">Acme Corporation</div>
<div class="t" style="left:511.05px;top:177.00px;font-size:20.5px;line-height:20.5px;font-weight:400;color:#111111;letter-spacing:0.367px;-webkit-text-stroke:0.25px #111;">0001-Brochure</div>
<div class="t" style="left:511.75px;top:203.00px;font-size:20.5px;line-height:20.5px;font-weight:700;color:#111111;letter-spacing:0.700px;">Date:</div>
<div class="t" style="left:569.85px;top:203.00px;font-size:20.5px;line-height:20.5px;font-weight:400;color:#111111;letter-spacing:0.200px;-webkit-text-stroke:0.25px #111;">07/15/2024 - 08/06/2024</div>
</div></body></html>
